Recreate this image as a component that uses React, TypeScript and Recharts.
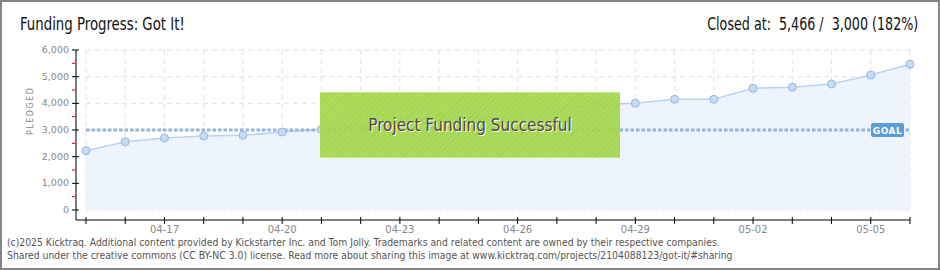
import { Area, AreaChart, CartesianGrid, ReferenceLine, XAxis, YAxis } from 'recharts'

const days = [
  '04-15', '04-16', '04-17', '04-18', '04-19', '04-20', '04-21', '04-22',
  '04-23', '04-24', '04-25', '04-26', '04-27', '04-28', '04-29', '04-30',
  '05-01', '05-02', '05-03', '05-04', '05-05', '05-06',
]

const pledged = [
  2224, 2561, 2700, 2775, 2801, 2925, 3026, 3176, 3330, 3499, 3476,
  3499, 3776, 3949, 4001, 4151, 4151, 4564, 4601, 4725, 5062, 5466,
]

const yTicks = [0, 500, 1000, 1500, 2000, 2500, 3000, 3500, 4000, 4500, 5000, 5500, 6000]
const gridValues = [0, 1000, 2000, 3000, 4000, 5000, 6000]
const labelledDays = ['04-17', '04-20', '04-23', '04-26', '04-29', '05-02', '05-05']

const GOAL = 3000

const data = days.map((day, i) => ({ day, pledged: pledged[i] }))

const narrow = "'DejaVu Sans Condensed', 'Liberation Sans Narrow', sans-serif"
const small = "'DejaVu Sans', Verdana, sans-serif"

function YTick({ x, y, payload }: any) {
  const major = payload.value % 1000 === 0
  if (!major) {
    return <line x1={x - 4} x2={x - 1} y1={y} y2={y} stroke="#e00000" />
  }
  return (
    <g>
      <line x1={x - 4} x2={x + 3} y1={y} y2={y} stroke="#000" />
      <text x={x - 7} y={y + 3} textAnchor="end" fontSize={9.5} fill="#888" fontFamily={small}>
        {payload.value.toLocaleString('en-US')}
      </text>
    </g>
  )
}

function XTick({ x, y, payload }: any) {
  return (
    <g>
      <line x1={x} x2={x} y1={y - 3} y2={y + 4} stroke="#000" />
      {labelledDays.includes(payload.value) && (
        <text x={x} y={y + 13} textAnchor="middle" fontSize={10} fill="#888" fontFamily={small}>
          {payload.value}
        </text>
      )}
    </g>
  )
}

function GoalTag({ viewBox }: any) {
  if (!viewBox) return null
  const right = viewBox.x + viewBox.width
  const cy = viewBox.y
  return (
    <g>
      <rect x={right - 39} y={cy - 7} width={33} height={14} rx={2} fill="#5b9bd8" />
      <text x={right - 22.5} y={cy + 3.5} textAnchor="middle" fontSize={9} fontWeight="bold" fill="#fff" fontFamily={small} letterSpacing={0.5}>
        GOAL
      </text>
    </g>
  )
}

export default function App() {
  return (
    <div
      style={{
        position: 'absolute',
        left: 0,
        top: 0,
        width: 940,
        height: 270,
        boxSizing: 'border-box',
        border: '2px solid #858585',
        background: '#fff',
        overflow: 'hidden',
      }}
    >
      <div style={{ position: 'absolute', left: -2, top: -2 }}>
        <AreaChart width={940} height={270} data={data} margin={{ top: 50, right: 30, left: 16, bottom: 30 }}>
          <CartesianGrid
            x={86}
            width={824}
            y={50}
            height={160}
            stroke="#e2e2e2"
            strokeDasharray="5 4"
            horizontalValues={gridValues}
          />
          <XAxis
            dataKey="day"
            scale="point"
            interval={0}
            padding={{ left: 10, right: 0 }}
            height={20}
            tickSize={0}
            tickMargin={0}
            axisLine={{ stroke: '#000' }}
            tick={<XTick />}
          />
          <YAxis
            width={60}
            domain={[0, 6000]}
            ticks={yTicks}
            interval={0}
            padding={{ top: 0, bottom: 10 }}
            tickSize={0}
            tickMargin={0}
            axisLine={{ stroke: '#000' }}
            tick={<YTick />}
            label={{ value: 'PLEDGED', angle: -90, position: 'insideLeft', offset: 14, fontSize: 8, fill: '#888', letterSpacing: 1.5, fontFamily: small }}
          />
          <Area
            type="linear"
            dataKey="pledged"
            stroke="#b7d3f3"
            strokeWidth={1.5}
            fill="#edf4fd"
            fillOpacity={1}
            dot={{ r: 4, fill: '#c5dcf6', stroke: '#97b5db', strokeWidth: 1 }}
            activeDot={false}
            isAnimationActive={false}
          />
          <ReferenceLine
            segment={[{ x: days[0], y: GOAL }, { x: days[days.length - 1], y: GOAL }]}
            stroke="#92b4df"
            strokeWidth={3}
            strokeDasharray="3.5 2"
            label={GoalTag}
          />
        </AreaChart>
      </div>

      <div
        style={{
          position: 'absolute',
          left: 318,
          top: 90,
          width: 300,
          height: 66,
          boxSizing: 'border-box',
          borderTop: '1px solid #c2e68a',
          borderBottom: '1px solid #c2e68a',
          background: 'repeating-linear-gradient(135deg, rgba(166,217,78,0.93) 0px, rgba(166,217,78,0.93) 3px, rgba(156,208,70,0.93) 3px, rgba(156,208,70,0.93) 4px)',
          display: 'flex',
          alignItems: 'center',
          justifyContent: 'center',
          fontFamily: narrow,
          fontSize: 17,
          color: '#4a4a4a',
          textShadow: '1px 1px 0 #fff',
        }}
      >
        Project Funding Successful
      </div>

      <div
        style={{
          position: 'absolute',
          left: 18,
          top: 12,
          fontFamily: narrow,
          fontSize: 17,
          color: '#111',
          whiteSpace: 'pre',
          transform: 'scaleX(0.87)',
          transformOrigin: 'left top',
        }}
      >
        Funding Progress: Got It!
      </div>
      <div
        style={{
          position: 'absolute',
          right: 20,
          top: 12,
          fontFamily: narrow,
          fontSize: 17,
          color: '#111',
          whiteSpace: 'pre',
          transform: 'scaleX(0.83)',
          transformOrigin: 'right top',
        }}
      >
        {'Closed at:  5,466 /  3,000 (182%)'}
      </div>

      <div style={{ position: 'absolute', left: 5, top: 234, fontFamily: narrow, fontSize: 10.3, color: '#555', lineHeight: '13px', whiteSpace: 'nowrap' }}>
        <div>(c)2025 Kicktraq. Additional content provided by Kickstarter Inc. and Tom Jolly. Trademarks and related content are owned by their respective companies.</div>
        <div>Shared under the creative commons (CC BY-NC 3.0) license. Read more about sharing this image at www.kicktraq.com/projects/2104088123/got-it/#sharing</div>
      </div>
    </div>
  )
}
